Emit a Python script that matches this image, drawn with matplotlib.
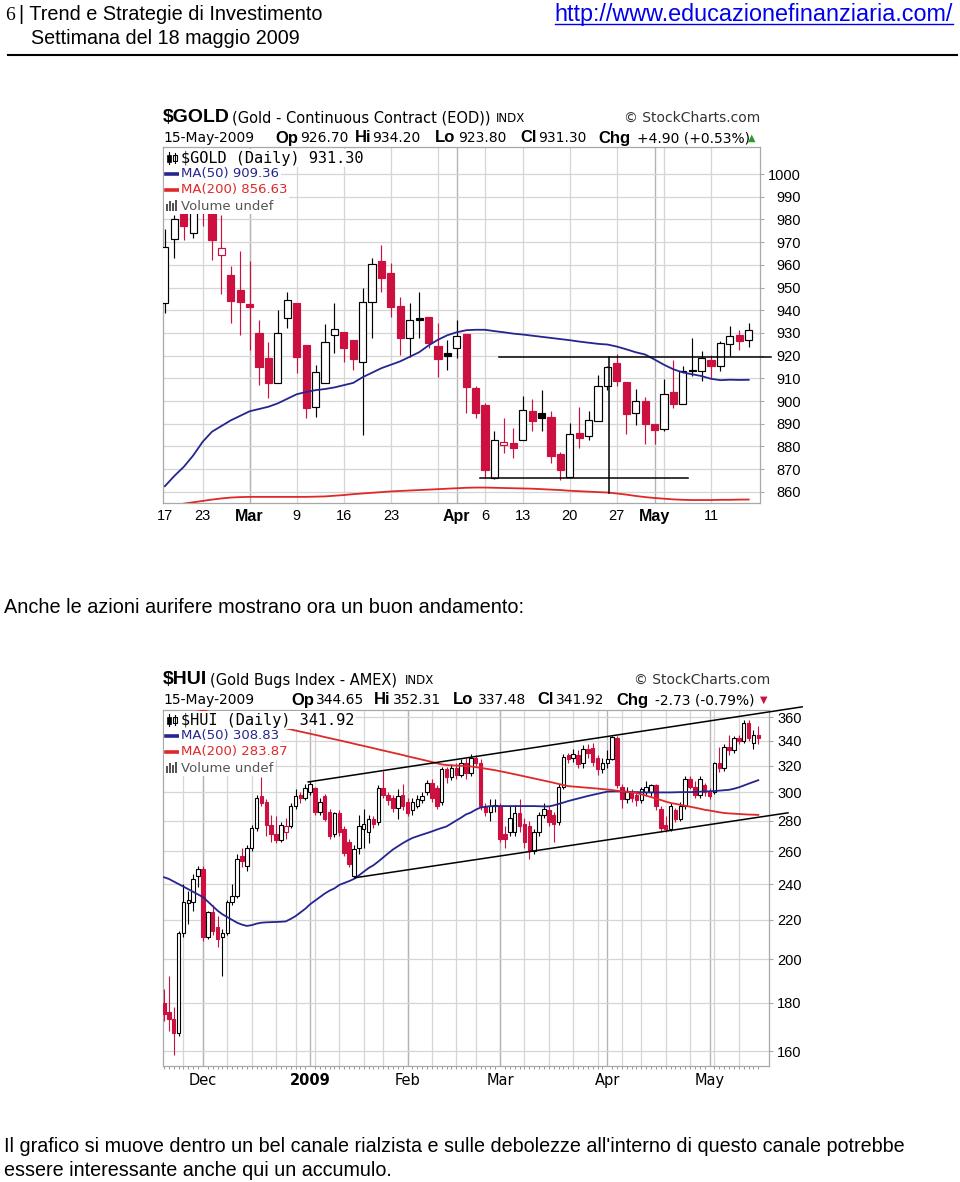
import numpy as np
import pandas as pd
import matplotlib
matplotlib.use("Agg")
import matplotlib.pyplot as plt
from matplotlib.lines import Line2D
from matplotlib.patches import Rectangle
from matplotlib.ticker import NullLocator

plt.rcParams["font.family"] = ["Liberation Sans", "DejaVu Sans"]

W, H = 960, 1182
RED = "#cc1040"
BLACK = "#000000"
NAVY = "#25258f"
MA_RED = "#e02828"
GRID = "#d6d6d6"

# ---------------- $GOLD daily, 17 Feb - 15 May 2009 ----------------
gold_dates = pd.bdate_range("2009-02-17", "2009-05-15").drop(pd.to_datetime(["2009-04-10"]))
gold_open = [943, 971.5, 986, 974, 1000, 992, 964.5, 955.6, 949, 942.6,
             929.9, 918.8, 907.8, 936.5, 943.4, 924.7, 897.5, 907.8, 929.1, 930.6,
             926.9, 917.4, 943.8, 961.5, 956.3, 942, 927.9, 936.8, 937.2, 924.4,
             921, 923.2, 929.4, 905.6, 898.2, 866, 880.5, 881.7, 882.7, 895.6,
             894.8, 892.9, 876.5, 866.6, 885.8, 884.6, 891.2, 906.6, 916.8, 908.5,
             894.8, 900, 889.7, 887.8, 903.9, 898.5, 913.6, 913.1, 918.3, 915.3,
             925.3, 929, 926.7]
gold_high = [976, 982, 990, 1007, 1006, 996, 982, 959.3, 965.9, 961.5,
             935.7, 926.2, 940.1, 948.2, 943.4, 924.7, 915.9, 933.8, 943.1, 930.6,
             926.9, 949.7, 962.9, 968.8, 960.7, 946, 943.1, 948.2, 937.2, 934.3,
             926.9, 935.7, 929.4, 906.6, 899.2, 886.8, 892.7, 888.3, 902.2, 900.7,
             904.7, 895.6, 877.7, 890.5, 897.3, 895.6, 911.4, 915.5, 920.8, 908.5,
             905.1, 901.7, 889.7, 909.8, 918.3, 915.3, 927.8, 922.2, 920.5, 926.3,
             932.9, 931.5, 934.2]
gold_low = [939, 963, 971, 972, 977, 962, 947, 934.3, 929.1, 922.5,
            907, 901.2, 907.8, 932, 912.2, 892.4, 893, 907.8, 921, 917.4,
            913.7, 885, 927.6, 948.2, 937.2, 920.3, 919.6, 927.6, 923.2, 910.7,
            913.7, 918.8, 894.6, 892.4, 866, 865.6, 877.3, 875, 882.7, 886.8,
            886.8, 872.9, 865.1, 866.6, 879.5, 882.7, 891.2, 905, 906.6, 885.3,
            889.4, 881.2, 881.2, 886.8, 897, 898.5, 911, 908.8, 910.2, 913.1,
            919.7, 922.7, 923.8]
gold_close = [968, 980, 977, 1000, 993, 971, 967.5, 944.1, 943.8, 941.6,
              915.1, 907.8, 929.9, 944.3, 919.6, 896.8, 912.6, 925.9, 931.8, 923.5,
              918.5, 943.8, 960.3, 954.1, 941.6, 927.6, 935.7, 935.9, 925.4, 918.5,
              920, 928.7, 906.3, 894.6, 869.5, 882.7, 882.0, 879.2, 896, 891.2,
              892.6, 875.8, 869.5, 885.6, 883.9, 891.5, 906.6, 915.1, 908.8, 894.4,
              899.9, 890, 887.1, 903.2, 898.5, 913.1, 913.3, 919, 915.3, 925.6,
              928.7, 926.4, 931.3]
gold_ma50 = [862.5, 867, 871, 876, 882, 886.5, 889, 891.5, 893.5, 895.5,
             896.5, 897.5, 899, 901, 903, 904, 904.8, 905.3, 906, 907,
             908, 910.5, 912.5, 914.5, 916, 917.5, 919.5, 921.5, 924.5, 927,
             929, 930.3, 931.2, 931.4, 931.4, 930.8, 930.3, 929.7, 929.3, 928.8,
             928.3, 927.8, 927.3, 926.8, 926.2, 925.7, 925.2, 924.9, 924, 922.8,
             921.5, 920.5, 918.3, 916, 914, 912.6, 911.8, 911, 909.8, 909.2,
             909.4, 909.3, 909.36]
gold_ma200 = [853.6, 854.2, 854.8, 855.4, 856, 856.6, 857.1, 857.5, 857.7, 857.8,
              857.8, 857.8, 857.8, 857.8, 857.8, 857.8, 857.9, 858, 858.3, 858.6,
              859, 859.3, 859.6, 859.9, 860.2, 860.4, 860.6, 860.8, 861, 861.2,
              861.4, 861.6, 861.8, 861.9, 861.9, 861.8, 861.7, 861.6, 861.5, 861.4,
              861.2, 861, 860.8, 860.5, 860.3, 860.1, 859.9, 859.7, 859.3, 858.8,
              858.2, 857.7, 857.3, 857, 856.7, 856.5, 856.4, 856.4, 856.4, 856.5,
              856.5, 856.6, 856.63]
gold_yticks = list(range(860, 1001, 10))
gold_tick_dates = ["2009-02-17", "2009-02-23", "2009-03-02", "2009-03-09", "2009-03-16",
                   "2009-03-23", "2009-04-01", "2009-04-06", "2009-04-13", "2009-04-20",
                   "2009-04-27", "2009-05-01", "2009-05-11"]
gold_tick_labels = ["17", "23", "Mar", "9", "16", "23", "Apr", "6", "13", "20", "27", "May", "11"]
# hand drawn support / resistance lines: (date index from, to, level)
gold_resist = (35.5, 64.4, 919.6)
gold_support = (33.5, 55.6, 866.0)
gold_vline = (47.2, 859.5, 919.6)

# ---------------- $HUI daily, 18 Nov 2008 - 15 May 2009 ----------------
hui_dates = pd.bdate_range("2008-11-18", "2009-05-15").drop(pd.to_datetime(
    ["2008-11-27", "2008-12-25", "2009-01-01", "2009-01-19", "2009-02-16", "2009-04-10"]))
hui_open = [180, 176, 173, 167, 213, 229, 230, 245, 249, 211,
            224, 216, 211, 213, 230, 233, 257, 251, 262, 275,
            297, 293, 277, 271, 267, 272, 276, 290, 298, 296,
            300, 303, 286, 297, 286, 271, 285, 274, 266, 245,
            262, 274, 272, 281, 279, 303, 298, 296, 289, 298,
            293, 287, 290, 294, 300, 307, 303, 293, 317, 311,
            318, 313, 322, 314, 326, 322, 290, 286, 290, 290,
            271, 272, 272, 285, 278, 276, 260, 272, 284, 287,
            284, 279, 304, 328, 326, 328, 322, 333, 334, 326,
            317, 322, 325, 342, 304, 295, 300, 298, 294, 300,
            300, 305, 288, 277, 274, 287, 281, 290, 310, 304,
            298, 305, 301, 300, 322, 318, 335, 332, 342, 340,
            355, 338, 344.65]
hui_high = [186, 192, 178, 214, 240, 236, 246, 251, 251, 225,
            228, 222, 215, 231, 240, 258, 262, 264, 277, 298,
            311, 295, 284, 283, 279, 282, 292, 302, 300, 306,
            308, 304, 296, 299, 288, 286, 287, 276, 268, 264,
            284, 288, 284, 283, 305, 316, 300, 298, 302, 306,
            296, 296, 298, 300, 309, 310, 305, 319, 319, 321,
            322, 325, 326, 329, 328, 325, 292, 295, 295, 292,
            276, 290, 291, 295, 282, 280, 274, 286, 292, 290,
            286, 306, 329, 330, 333, 332, 336, 337, 338, 328,
            326, 332, 344, 344, 306, 304, 302, 300, 304, 308,
            306, 306, 290, 283, 292, 289, 293, 312, 312, 308,
            312, 307, 303, 323, 335, 337, 345, 344, 345, 357,
            357, 349, 352.31]
hui_low = [172, 168, 158.5, 166, 211, 218, 225, 238, 209, 210,
           212, 206, 192, 212, 228, 232, 250, 248, 260, 273,
           290, 270, 266, 265, 266, 268, 275, 288, 292, 294,
           298, 284, 284, 280, 268, 269, 270, 257, 250, 243.5,
           258, 262, 265, 275, 277, 296, 291, 286, 281, 287,
           283, 284, 289, 292, 298, 293, 288, 291, 307, 309,
           310, 311, 310, 312, 320, 287, 283, 280, 286, 266,
           262, 270, 270, 272, 262, 255, 258, 270, 282, 276,
           266, 277, 302, 322, 323, 318, 318, 326, 320, 313,
           314, 318, 324, 303, 289, 292, 293, 290, 292, 298,
           297, 287, 272, 272, 273, 279, 280, 288, 302, 296,
           296, 297, 295, 299, 315, 316, 328, 330, 337, 338,
           340, 333, 337.48]
hui_close = [175, 173, 167, 213, 230, 231, 243, 249, 211, 224,
             214, 210, 213, 230, 233, 255, 254, 262, 275, 296,
             292, 277, 271, 267, 277, 276, 290, 297, 296, 303,
             306, 286, 293, 281, 270, 285, 272, 259, 252, 261,
             276, 278, 281, 278, 303, 298, 294, 289, 297, 290,
             285, 293, 295, 297, 307, 296, 290, 317, 311, 318,
             313, 322, 314, 326, 322, 290, 286, 290, 291, 268,
             267.5, 282, 285, 276, 266, 260, 272, 284, 288, 279,
             278, 304, 327, 325, 329, 321, 333, 330, 323, 317,
             322, 325, 343, 305, 295, 300, 296, 294, 302, 304,
             305, 290, 275, 274, 290, 281, 290, 310, 304, 298,
             310, 300, 297, 322, 318, 335, 332, 342, 340, 355,
             342, 344.65, 341.92]
hui_ma50 = [244, 243, 241.5, 240, 238.5, 237, 235.5, 234, 232.5, 230,
            227.5, 225, 223, 221.5, 220, 218.5, 217.5, 216.8, 217.2, 218,
            218.5, 218.7, 218.8, 218.9, 219, 219.2, 220.5, 222, 224, 226,
            228.5, 230.5, 232.5, 234.5, 236.2, 237.5, 239.5, 240.6, 241.7, 243,
            245, 247.3, 249.5, 251.2, 253.5, 256, 258.5, 261, 263, 265,
            266.8, 268.4, 269.5, 270.6, 271.6, 272.7, 273.9, 275, 276, 278,
            280, 282, 284.2, 285.5, 287.5, 289, 289.5, 290, 290, 290,
            290, 290, 290, 290, 290, 290, 290, 289.9, 289.8, 289.8,
            290.5, 291.5, 292.5, 293.6, 294.5, 295.4, 296.3, 297.2, 298, 298.8,
            299.6, 300.3, 300.5, 300.5, 300.5, 300.3, 300.1, 300, 299.9, 299.8,
            299.8, 299.8, 299.8, 299.8, 299.8, 299.9, 300, 300, 300, 300.1,
            300.3, 300.5, 300.6, 300.8, 301.1, 301.4, 301.7, 302.5, 303.5, 304.8,
            306.2, 307.5, 308.83]
hui_ma200 = [373, 372, 371.2, 370.3, 369.4, 368.5, 367.6, 366.7, 365.8, 364.9,
             364, 363, 362.1, 361.2, 360.3, 359.4, 358.5, 357.6, 356.7, 355.8,
             354.8, 353.9, 353, 352.1, 351.2, 350.3, 349.4, 348.4, 347.5, 346.6,
             345.7, 344.8, 343.9, 342.9, 342, 341.1, 340.2, 339.3, 338.4, 337.4,
             336.5, 335.6, 334.7, 333.8, 332.8, 331.9, 331, 330.1, 329.2, 328.3,
             327.3, 326.4, 325.5, 324.6, 323.7, 322.8, 321.8, 320.9, 320.4, 320.2,
             320, 319.8, 319.6, 319.3, 318.8, 318.2, 317.6, 317, 316.4, 315.6,
             314.9, 314.1, 313.3, 312.5, 311.7, 310.9, 310.1, 309.3, 308.5, 307.7,
             306.9, 306, 305.2, 304.4, 304.1, 303.8, 303.5, 303.2, 302.9, 302.6,
             302.2, 301.9, 301.5, 301, 300.6, 300.2, 299.8, 299.4, 298.4, 297.4,
             296.4, 295.3, 294.3, 293.2, 292.2, 291.6, 290.9, 290.2, 289.6, 288.9,
             288.2, 287.4, 286.9, 286.3, 285.7, 285.2, 284.9, 284.7, 284.5, 284.3,
             284.1, 284, 283.87]
hui_yticks = [160, 180, 200, 220, 240, 260, 280, 300, 320, 340, 360]
hui_tick_dates = ["2008-12-01", "2009-01-02", "2009-02-02", "2009-03-02", "2009-04-01", "2009-05-01"]
hui_tick_labels = ["Dec", "2009", "Feb", "Mar", "Apr", "May"]
# channel lines: (index, value) start and end
hui_upper = ((29.6, 307.5), (131.0, 369.0))
hui_lower = ((39.2, 243.7), (128.1, 285.3))


fig = plt.figure(figsize=(W / 100, H / 100), dpi=100)


def fx(x):
    return x / W


def fy(y):
    return 1 - y / H


def put(x, y, s, **kw):
    kw.setdefault("va", "center")
    return fig.text(fx(x), fy(y), s, **kw)


def candles(ax, o, h, l, c, width, lw):
    o, h, l, c = map(np.asarray, (o, h, l, c))
    x = np.arange(len(c))
    prev = np.r_[o[0], c[:-1]]
    col = np.where(c >= prev, BLACK, RED)
    ax.vlines(x, l, h, colors=col, lw=lw, zorder=3)
    lo = np.minimum(o, c)
    hi = np.maximum(o, c)
    face = np.where(c > o, "white", col)
    ax.bar(x, hi - lo + 1e-3, bottom=lo, width=width, color=face, edgecolor=col,
           lw=lw, zorder=4)


def week_starts(dates):
    wk = dates.isocalendar().week.values
    return [i for i in range(1, len(dates)) if wk[i] != wk[i - 1]]


def month_starts(dates):
    return [i for i in range(1, len(dates)) if dates[i].month != dates[i - 1].month]


def style_axes(ax, dates):
    for s in ax.spines.values():
        s.set_color("#a8a8a8")
        s.set_linewidth(0.9)
    for i in week_starts(dates):
        ax.axvline(i, color=GRID, lw=0.9, zorder=0)
    for i in month_starts(dates):
        ax.axvline(i, color="#b4b4b4", lw=1.0, zorder=0)
    ax.yaxis.tick_right()
    ax.tick_params(axis="x", length=0)


def candle_icon(x, y):
    fig.add_artist(Line2D([fx(x + 2), fx(x + 2)], [fy(y - 6), fy(y + 6)], color="black", lw=0.8))
    fig.add_artist(Rectangle((fx(x), fy(y + 4)), 4 / W, 7 / H, fc="black", ec="black", lw=0.5))
    fig.add_artist(Line2D([fx(x + 8), fx(x + 8)], [fy(y - 5), fy(y + 5)], color="black", lw=0.8))
    fig.add_artist(Rectangle((fx(x + 6), fy(y + 3)), 4 / W, 6 / H, fc="white", ec="black", lw=0.8))


def vol_icon(x, y):
    for k, hh in enumerate([7, 10, 8, 11]):
        fig.add_artist(Rectangle((fx(x + 3 * k), fy(y + 5)), 2 / W, hh / H, fc="#555555", ec="none"))


def legend(x0, y0, rows):
    box = dict(boxstyle="square,pad=0.12", fc="white", ec="none")
    for k, (txt, col, fam, size) in enumerate(rows):
        y = y0 + 16 * k
        fig.add_artist(Rectangle((fx(x0 + 1), fy(y + 8)), 20 / W, 16 / H, fc="white", ec="none"))
        put(x0 + 18, y, txt, color=col, family=fam, size=size, bbox=box)
        if k == 0:
            candle_icon(x0 + 4, y)
        elif k == 3:
            vol_icon(x0 + 3, y)
        else:
            fig.add_artist(Line2D([fx(x0 + 3), fx(x0 + 16)], [fy(y), fy(y)], color=col, lw=2.6))


def header(y1, y2, sym, sym_x, name, name_x, indx_x, right_x, parts, arrow, arrow_col, arrow_x):
    put(sym_x, y1, sym, weight="bold", size=14)
    put(name_x, y1, name, family="DejaVu Sans", size=10.5)
    put(indx_x, y1, "INDX", family="DejaVu Sans", size=8.5)
    put(right_x, y1, "\u00a9 StockCharts.com", family="DejaVu Sans", size=10, ha="right", color="#333333")
    for x, s, bold in parts:
        if bold:
            put(x, y2, s, weight="bold", size=12)
        else:
            put(x, y2, s, family="DejaVu Sans", size=10)
    put(arrow_x, y2, arrow, family="DejaVu Sans", size=7, color=arrow_col)


# ---------------- page text ----------------
put(5, 15, "6", family="Liberation Serif", size=14)
put(19, 14, "| Trend e Strategie di Investimento", size=14.3)
put(31, 38, "Settimana del 18 maggio 2009", size=14.2)
url = put(953, 14, "http://www.educazionefinanziaria.com/", size=16.8, color="#0000ee", ha="right")
fig.add_artist(Line2D([fx(8), fx(957)], [fy(55), fy(55)], color="black", lw=1.5))
put(4, 608, "Anche le azioni aurifere mostrano ora un buon andamento:", size=14.3)
put(4, 1147, "Il grafico si muove dentro un bel canale rialzista e sulle debolezze "
             "all'interno di questo canale potrebbe", size=14.2)
put(4, 1170, "essere interessante anche qui un accumulo.", size=14.2)

# ---------------- GOLD chart ----------------
axg = fig.add_axes([fx(163), fy(503), (760 - 163) / W, (503 - 147) / H])
style_axes(axg, gold_dates)
for v in gold_yticks:
    axg.axhline(v, color=GRID, lw=0.9, zorder=0)
candles(axg, gold_open, gold_high, gold_low, gold_close, 0.76, 0.85)
xg = np.arange(len(gold_close))
axg.plot(xg, gold_ma50, color=NAVY, lw=1.3, zorder=5)
axg.plot(xg, gold_ma200, color=MA_RED, lw=1.3, zorder=5)
axg.plot(gold_resist[:2], [gold_resist[2]] * 2, color="black", lw=1.1, zorder=6, clip_on=False)
axg.plot(gold_support[:2], [gold_support[2]] * 2, color="black", lw=1.1, zorder=6)
axg.plot([gold_vline[0]] * 2, gold_vline[1:], color="black", lw=1.1, zorder=6)
axg.set_xlim(-0.2, 63.2)
axg.set_ylim(855.1, 1011.9)
axg.set_yticks(gold_yticks)
axg.set_yticklabels([str(v) for v in gold_yticks])
axg.tick_params(axis="y", length=3, color="#a8a8a8", pad=26.5, labelsize=10.5)
for t in axg.get_yticklabels():
    t.set_horizontalalignment("right")
axg.set_xticks([gold_dates.get_loc(pd.Timestamp(d)) for d in gold_tick_dates])
axg.set_xticklabels(gold_tick_labels)
axg.tick_params(axis="x", pad=4, labelsize=10.5)
for t in axg.get_xticklabels():
    if t.get_text().isalpha():
        t.set_fontweight("bold")
        t.set_fontsize(11.5)

header(118, 138, "$GOLD", 163, "(Gold - Continuous Contract (EOD))", 232, 496, 760,
       [(163, "15-May-2009", False), (275, "Op", True), (300, "926.70", False),
        (355, "Hi", True), (372, "934.20", False), (435, "Lo", True), (458, "923.80", False),
        (520, "Cl", True), (538, "931.30", False), (598, "Chg", True),
        (637, "+4.90 (+0.53%)", False)], "\u25b2", "#2a9a2a", 748)
legend(163, 158, [("$GOLD (Daily) 931.30", "black", "DejaVu Sans Mono", 11),
                  ("MA(50) 909.36", NAVY, "DejaVu Sans", 9.5),
                  ("MA(200) 856.63", MA_RED, "DejaVu Sans", 9.5),
                  ("Volume undef", "#555555", "DejaVu Sans", 9.5)])

# ---------------- HUI chart ----------------
axh = fig.add_axes([fx(163), fy(1066), (769 - 163) / W, (1066 - 710) / H])
axh.set_yscale("log")
style_axes(axh, hui_dates)
for v in hui_yticks:
    axh.axhline(v, color=GRID, lw=0.9, zorder=0)
candles(axh, hui_open, hui_high, hui_low, hui_close, 0.72, 0.8)
xh = np.arange(len(hui_close))
axh.plot(xh, hui_ma50, color=NAVY, lw=1.3, zorder=5)
axh.plot(xh, hui_ma200, color=MA_RED, lw=1.3, zorder=5)
for (a, b) in (hui_upper, hui_lower):
    axh.plot([a[0], b[0]], [a[1], b[1]], color="black", lw=1.1, zorder=6, clip_on=False)
axh.set_xlim(-0.2, 124.2)
axh.set_ylim(154.3, 366.2)
axh.set_yticks(hui_yticks)
axh.set_yticklabels([str(v) for v in hui_yticks])
axh.yaxis.set_minor_locator(NullLocator())
axh.tick_params(axis="y", which="both", length=3, color="#a8a8a8", pad=20.5, labelsize=10.5)
for t in axh.get_yticklabels():
    t.set_horizontalalignment("right")
axh.set_xticks([hui_dates.get_loc(pd.Timestamp(d)) for d in hui_tick_dates])
axh.set_xticklabels(hui_tick_labels)
axh.set_xticks(xh, minor=True)
axh.tick_params(axis="x", which="minor", length=2, width=0.6, color="#888888")
axh.tick_params(axis="x", which="major", length=0, pad=5, labelsize=10.5)
for t in axh.get_xticklabels():
    t.set_fontfamily("DejaVu Sans")
    if t.get_text() == "2009":
        t.set_fontweight("bold")
        t.set_fontsize(10.5)

header(680, 700, "$HUI", 163, "(Gold Bugs Index - AMEX)", 210, 405, 770,
       [(163, "15-May-2009", False), (291, "Op", True), (316, "344.65", False),
        (374, "Hi", True), (393, "352.31", False), (453, "Lo", True), (478, "337.48", False),
        (537, "Cl", True), (556, "341.92", False), (616, "Chg", True),
        (655, "-2.73 (-0.79%)", False)], "\u25bc", RED, 760)
legend(163, 720, [("$HUI (Daily) 341.92", "black", "DejaVu Sans Mono", 11),
                  ("MA(50) 308.83", NAVY, "DejaVu Sans", 9.5),
                  ("MA(200) 283.87", MA_RED, "DejaVu Sans", 9.5),
                  ("Volume undef", "#555555", "DejaVu Sans", 9.5)])

# underline for the link
fig.canvas.draw()
bb = url.get_window_extent()
fig.add_artist(Line2D([bb.x0 / W, bb.x1 / W], [(bb.y0 + 2) / H] * 2, color="#0000ee", lw=1))

fig.savefig("out.png", dpi=100)
